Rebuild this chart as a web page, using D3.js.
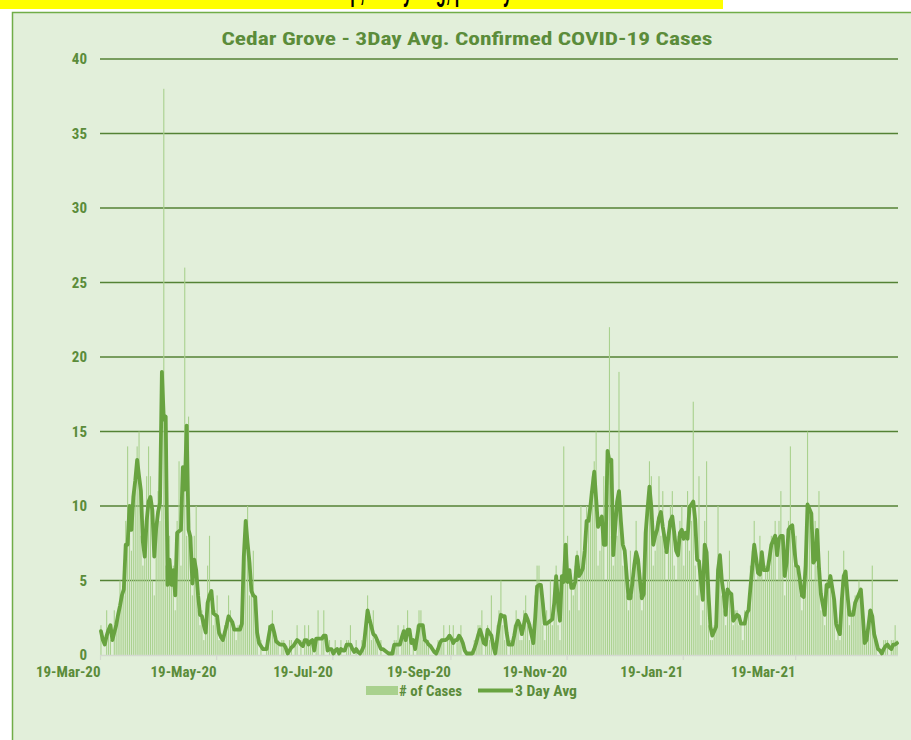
<!DOCTYPE html>
<html><head><meta charset="utf-8">
<script src="https://cdn.jsdelivr.net/npm/d3@7/dist/d3.min.js"></script>
<style>
body{margin:0;background:#fff;}
svg{display:block;}
</style>
</head><body>
<svg id="chart" width="911" height="740"></svg>
<script>
// ---------------- DATA ----------------
const startDate = "2020-03-19";
const titleText = "Cedar Grove - 3Day Avg. Confirmed COVID-19 Cases";
const seriesNames = ["# of Cases", "3 Day Avg"];
const noteText = "Township, 3 Day Avg, per day";

// daily confirmed cases (one value per day from 19-Mar-20)
const cases = [
 2,0,0,3,2,1,0,3,2,3,
 5,4,4,9,14,8,7,11,12,14,
 15,8,6,7,12,14,12,5,4,9,
 11,9,10,38,6,5,8,5,6,3,
 9,13,6,12,26,8,16,5,4,8,
 10,3,2,3,1,2,6,8,3,2,
 3,4,1,1,1,2,2,4,3,2,
 2,1,2,2,3,7,9,10,4,5,
 7,3,1,0,1,0,0,1,2,2,
 3,1,1,1,0,1,1,0,0,1,
 1,0,1,2,0,1,0,2,1,2,
 1,1,0,1,3,0,1,3,0,0,
 1,0,0,1,0,0,1,0,0,1,
 1,2,0,0,1,0,0,1,1,2,
 4,2,1,3,1,1,0,1,0,0,
 0,0,0,0,1,1,2,0,1,2,
 1,3,1,0,1,0,2,3,3,1,
 1,1,1,0,0,0,0,1,1,1,
 2,0,1,2,1,2,0,1,1,2,
 0,0,0,0,0,0,1,1,2,2,
 3,0,1,2,1,4,0,0,2,3,
 5,2,1,1,0,1,1,2,3,2,
 1,1,3,4,2,1,1,1,4,6,
 6,4,2,1,3,2,5,2,5,6,
 2,1,5,14,5,8,3,5,4,6,
 7,3,10,6,7,10,9,11,12,13,
 15,6,7,9,12,5,10,22,8,6,
 9,8,19,10,6,6,4,3,7,4,
 5,9,6,4,3,5,9,10,13,12,
 6,7,9,12,8,11,7,5,9,10,
 11,6,5,8,9,10,6,8,11,7,
 9,17,6,4,12,2,3,9,13,2,
 1,1,2,3,10,6,4,3,2,5,
 7,3,2,3,3,2,2,1,3,3,
 3,6,7,9,5,6,8,7,5,6,
 6,7,8,8,9,5,9,11,7,4,
 7,9,14,8,6,8,5,4,3,4,
 6,15,10,8,5,9,6,11,3,3,
 2,5,7,5,4,3,1,2,1,5,
 7,5,3,2,3,3,4,4,5,4,
 2,1,1,3,3,6,1,1,0,0,
 0,1,1,1,0,1,1,2,1
];

// 3 day average line
const avg3 = [
 1.6,1.0,0.7,1.3,1.7,2.0,1.0,1.5,2.0,2.7,
 3.3,4.0,4.4,7.4,7.4,10.0,8.4,10.6,11.7,13.1,
 12.0,11.0,7.6,6.6,9.0,10.3,10.6,9.7,6.6,8.5,
 9.6,10.2,19.0,15.8,16.0,4.7,6.4,4.7,5.7,4.0,
 8.2,8.3,8.4,12.6,11.1,15.4,8.4,7.9,4.8,6.4,
 5.7,4.0,2.7,2.6,2.0,1.5,3.5,4.0,4.3,2.8,
 2.7,2.6,1.5,1.2,1.0,1.5,2.0,2.6,2.4,2.2,
 1.7,1.7,1.7,1.7,2.1,6.6,9.0,7.5,6.2,4.3,
 4.0,3.9,1.5,0.8,0.6,0.4,0.4,0.4,1.2,1.9,
 2.0,1.5,0.9,0.8,0.7,0.7,0.7,0.5,0.1,0.3,
 0.5,0.6,0.8,1.0,0.9,0.7,0.6,1.0,1.0,0.7,
 0.9,1.0,0.3,1.1,1.1,1.1,1.1,1.3,1.3,0.3,
 0.4,0.4,0.1,0.3,0.4,0.1,0.4,0.3,0.3,0.7,
 0.7,0.7,0.4,0.2,0.4,0.2,0.1,0.3,0.6,1.8,
 3.0,2.4,1.9,1.4,1.3,1.0,0.7,0.4,0.4,0.3,
 0.2,0.1,0.1,0.1,0.7,0.7,0.7,0.7,1.2,1.6,
 1.0,1.7,1.7,0.8,1.0,0.4,1.2,2.0,2.0,2.0,
 1.0,0.9,0.7,0.6,0.4,0.2,0.1,0.4,0.8,1.0,
 1.0,1.0,1.1,1.3,1.1,0.8,1.0,1.0,1.3,1.1,
 0.8,0.3,0.1,0.1,0.1,0.1,0.4,0.8,1.3,1.7,
 1.3,0.8,0.7,1.7,1.5,1.3,0.6,0.1,1.0,2.0,
 2.7,2.6,2.6,1.5,0.7,0.7,0.7,1.3,2.0,2.3,
 2.0,1.4,2.0,2.7,2.4,2.0,1.4,0.8,2.5,4.6,
 4.7,4.7,3.5,2.1,2.1,2.2,2.3,2.4,3.5,5.3,
 3.5,2.3,5.3,4.9,7.4,4.9,5.7,4.5,4.5,4.9,
 6.6,5.3,5.5,5.8,7.0,9.0,9.0,10.0,11.2,12.3,
 10.5,8.6,9.0,9.3,7.4,7.4,13.7,13.0,13.1,6.7,
 8.5,10.3,11.0,9.0,7.4,7.0,5.4,3.8,3.8,4.8,
 6.0,6.9,6.4,5.0,3.8,4.1,8.2,9.8,11.3,9.9,
 7.4,8.0,8.4,9.2,9.6,8.6,7.8,6.9,8.0,9.0,
 9.3,8.2,7.0,6.7,8.2,8.4,7.8,8.2,7.8,9.9,
 10.1,10.3,9.1,6.4,6.3,5.0,3.7,7.4,6.9,4.1,
 1.9,1.3,1.6,1.9,5.7,6.7,5.0,4.1,2.7,4.4,
 4.2,4.1,2.3,2.5,2.7,2.6,2.1,2.1,2.1,2.8,
 3.0,4.5,5.9,7.4,6.5,5.5,5.4,6.9,5.7,5.7,
 5.7,6.5,7.4,7.7,8.0,6.7,7.8,8.0,8.0,5.3,
 6.2,8.4,8.6,8.7,7.2,6.0,5.9,5.0,4.0,3.9,
 6.0,10.1,9.8,9.5,6.2,6.4,8.4,5.9,4.1,3.4,
 2.7,4.7,4.6,5.3,4.5,3.7,2.1,1.7,1.4,3.7,
 5.3,5.6,4.0,2.7,2.7,2.7,3.5,3.8,4.1,4.4,
 2.7,0.8,1.0,2.0,3.0,2.6,1.4,0.9,0.4,0.3,
 0.1,0.4,0.6,0.7,0.5,0.4,0.7,0.7,0.8
];

const xTickDates = ["2020-03-19","2020-05-19","2020-07-19","2020-09-19","2020-11-19","2021-01-19","2021-03-19"];
const xTickLabels = ["19-Mar-20","19-May-20","19-Jul-20","19-Sep-20","19-Nov-20","19-Jan-21","19-Mar-21"];
const yTicks = [0,5,10,15,20,25,30,35,40];
const yTickLabels = ["0","5","10","15","20","25","30","35","40"];

// ---------------- DRAW ----------------
const C = {
  bg: "#e2efda", border: "#70ad47", grid: "#548235", text: "#5b8c3a",
  bar: "#a9d18e", line: "#68a340", axis: "#d4d9d0", yellow: "#ffff00"
};
const FONT = "'Liberation Sans Narrow','Arial Narrow','Roboto Condensed','Liberation Sans',sans-serif";

const svg = d3.select("#chart");
const parse = d3.utcParse("%Y-%m-%d");
const start = parse(startDate);
const dates = d3.utcDay.range(start, d3.utcDay.offset(start, cases.length));

const plot = {left: 100, right: 898, top: 59, bottom: 655};
const x = d3.scaleUtc()
  .domain([start, d3.utcDay.offset(start, cases.length)])
  .range([plot.left, plot.right]);
const y = d3.scaleLinear().domain([0, 40]).range([plot.bottom, plot.top]);
const dayW = x(d3.utcDay.offset(start, 1)) - x(start);
const cx = d => x(d) + dayW / 2;

// top yellow note strip (its text is cut off by the page top, as in the source)
svg.append("defs").append("clipPath").attr("id", "noteclip")
  .append("rect").attr("x", 0).attr("y", 0).attr("width", 723).attr("height", 9);
svg.append("rect").attr("x", 0).attr("y", 0).attr("width", 723).attr("height", 9).attr("fill", C.yellow);
svg.append("text").attr("clip-path", "url(#noteclip)")
  .attr("x", 286).attr("y", 0)
  .attr("font-family", "'Liberation Sans','Open Sans',sans-serif").attr("font-size", 32)
  .attr("font-weight", "bold")
  .attr("textLength", 226).attr("lengthAdjust", "spacingAndGlyphs")
  .attr("fill", "#000").text(noteText);

// chart area
svg.append("rect").attr("x", 12.5).attr("y", 12.5).attr("width", 905).attr("height", 740)
  .attr("fill", C.bg).attr("stroke", C.border).attr("stroke-width", 1.5);

// title
svg.append("text").attr("x", 467).attr("y", 45).attr("text-anchor", "middle")
  .attr("font-family", FONT).attr("font-weight", "bold").attr("font-size", 19)
  .attr("fill", C.text).attr("textLength", 491).attr("lengthAdjust", "spacingAndGlyphs")
  .text(titleText);

// gridlines
svg.append("g").selectAll("line").data(yTicks.filter(v => v > 0)).join("line")
  .attr("x1", plot.left).attr("x2", plot.right)
  .attr("y1", d => y(d)).attr("y2", d => y(d))
  .attr("stroke", C.grid).attr("stroke-width", 1.5);

// y axis labels
const yAxis = d3.axisLeft(y).tickValues(yTicks).tickSize(0).tickPadding(13)
  .tickFormat((d, i) => yTickLabels[i]);
const gy = svg.append("g").attr("transform", `translate(${plot.left},0)`).call(yAxis);
gy.select(".domain").remove();
gy.selectAll("text").attr("font-family", FONT).attr("font-weight", "bold")
  .attr("font-size", 15).attr("fill", C.text);

// bars
svg.append("g").selectAll("rect").data(cases).join("rect")
  .attr("x", (d, i) => cx(dates[i]) - 0.55)
  .attr("width", 1.1)
  .attr("y", d => y(d))
  .attr("height", d => y(0) - y(d))
  .attr("fill", C.bar);

// x axis
const xAxis = d3.axisBottom(x).tickValues(xTickDates.map(parse)).tickSize(5)
  .tickFormat((d, i) => xTickLabels[i]);
const gx = svg.append("g").attr("transform", `translate(0,${plot.bottom})`).call(xAxis);
gx.select(".domain").attr("stroke", C.axis).attr("stroke-width", 1.5)
  .attr("d", `M${plot.left},0.5H${plot.right}`);
gx.selectAll(".tick line").attr("stroke", C.axis).attr("stroke-width", 1.2);
gx.selectAll(".tick text").attr("font-family", FONT).attr("font-weight", "bold")
  .attr("font-size", 15).attr("fill", C.text).attr("text-anchor", "end")
  .attr("x", 0).attr("dy", "0").attr("y", 22);

// 3-day avg line
const line = d3.line().x((d, i) => cx(dates[i])).y(d => y(d));
svg.append("path").datum(avg3).attr("d", line)
  .attr("fill", "none").attr("stroke", C.line).attr("stroke-width", 3.8)
  .attr("stroke-linejoin", "round").attr("stroke-linecap", "round");

// legend
const lg = svg.append("g").attr("font-family", FONT).attr("font-weight", "bold")
  .attr("font-size", 15).attr("fill", C.text);
lg.append("rect").attr("x", 366).attr("y", 686).attr("width", 32).attr("height", 9).attr("fill", C.bar);
lg.append("text").attr("x", 399).attr("y", 695.5).attr("textLength", 63)
  .attr("lengthAdjust", "spacingAndGlyphs").text(seriesNames[0]);
lg.append("line").attr("x1", 478).attr("x2", 513).attr("y1", 690.5).attr("y2", 690.5)
  .attr("stroke", C.line).attr("stroke-width", 3.8);
lg.append("text").attr("x", 515).attr("y", 695.5).attr("textLength", 62)
  .attr("lengthAdjust", "spacingAndGlyphs").text(seriesNames[1]);
</script>
</body></html>
